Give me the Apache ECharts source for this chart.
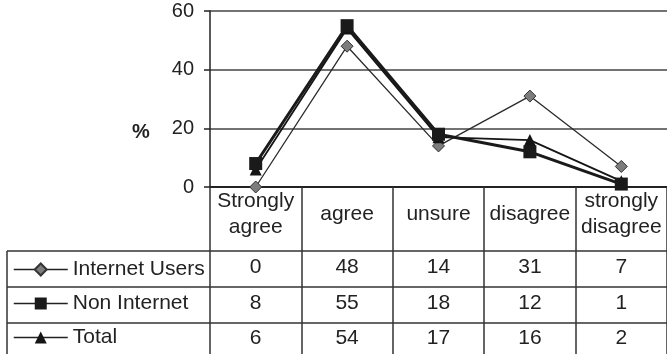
<!DOCTYPE html>
<html>
<head>
<meta charset="utf-8">
<script src="https://cdn.jsdelivr.net/npm/echarts@6/dist/echarts.min.js"></script>
<style>
html,body{margin:0;padding:0;background:#fff;}
#c{width:667px;height:354px;}
</style>
</head>
<body>
<div id="c"></div>
<script>
const categories = ['Strongly\nagree', 'agree', 'unsure', 'disagree', 'strongly\ndisagree'];
const seriesNames = ['Internet Users', 'Non Internet', 'Total'];
const internetUsers = [0, 48, 14, 31, 7];
const nonInternet = [8, 55, 18, 12, 1];
const total = [6, 54, 17, 16, 2];
const yTickValues = [0, 20, 40, 60];

const FONT = '"Liberation Sans", Arial, sans-serif';
const INK = '#222';
const FS = 21;

const chart = echarts.init(document.getElementById('c'), null, {renderer: 'canvas'});

const option = {
  backgroundColor: '#fff',
  animation: false,
  textStyle: {fontFamily: FONT},
  grid: {left: 210, top: 11, width: 466, height: 176},
  legend: {
    orient: 'vertical',
    left: 13,
    top: 259,
    height: 150,
    padding: 0,
    itemWidth: 54,
    itemHeight: 15,
    itemGap: 13,
    data: seriesNames,
    lineStyle: {width: 1.5, color: INK},
    textStyle: {fontSize: FS, color: INK, fontFamily: FONT},
    selectedMode: false
  },
  xAxis: {
    type: 'category',
    data: categories,
    boundaryGap: true,
    axisLine: {show: true, lineStyle: {color: INK, width: 2}},
    axisTick: {show: true, length: 170, interval: 0, lineStyle: {color: '#333', width: 1.5}},
    axisLabel: {
      interval: 0, fontSize: FS, lineHeight: 26, color: INK,
      verticalAlign: 'middle', margin: 27, fontFamily: FONT
    },
    splitLine: {show: false}
  },
  yAxis: {
    type: 'value',
    min: yTickValues[0],
    max: yTickValues[yTickValues.length - 1],
    interval: yTickValues[1] - yTickValues[0],
    axisLine: {show: true, lineStyle: {color: INK, width: 1.5}},
    axisTick: {show: true, length: 6, lineStyle: {color: INK, width: 1.5}},
    axisLabel: {fontSize: 20, color: INK, margin: 16, fontFamily: FONT},
    splitLine: {show: true, lineStyle: {color: '#444', width: 1.5}}
  },
  series: [
    {
      name: seriesNames[0], type: 'line', data: internetUsers, z: 3,
      symbol: 'diamond', symbolSize: 12, showAllSymbol: true, clip: false,
      itemStyle: {color: '#7d7d7d', borderColor: '#333', borderWidth: 1},
      lineStyle: {color: '#2a2a2a', width: 1.3}
    },
    {
      name: seriesNames[2], type: 'line', data: total, z: 4,
      symbol: 'triangle', symbolSize: 12, showAllSymbol: true, clip: false,
      itemStyle: {color: '#151515'},
      lineStyle: {color: '#151515', width: 1.8}
    },
    {
      name: seriesNames[1], type: 'line', data: nonInternet, z: 5,
      symbol: 'rect', symbolSize: 13, showAllSymbol: true, clip: false,
      itemStyle: {color: '#1a1a1a'},
      lineStyle: {color: '#1a1a1a', width: 3}
    }
  ]
};
chart.setOption(option);

// Data table drawn below the axis, columns follow the category axis.
const tableRows = [internetUsers, nonInternet, total];
const rowLines = [251, 287, 323];
const rowTextY = [267, 303, 338];
const tableLeft = 7;
const els = [];
rowLines.forEach(function (y) {
  els.push({type: 'line', shape: {x1: tableLeft, y1: y, x2: 667, y2: y},
    style: {stroke: '#333', lineWidth: 1.5}, silent: true});
});
els.push({type: 'line', shape: {x1: tableLeft, y1: rowLines[0], x2: tableLeft, y2: 354},
  style: {stroke: '#333', lineWidth: 1.5}, silent: true});
tableRows.forEach(function (vals, r) {
  vals.forEach(function (v, i) {
    const x = chart.convertToPixel({xAxisIndex: 0}, i);
    els.push({type: 'text', x: x, y: rowTextY[r], silent: true,
      style: {text: String(v), fontSize: FS, fontFamily: FONT, fill: INK,
        align: 'center', verticalAlign: 'middle'}});
  });
});
els.push({type: 'text', x: 141, y: 132, silent: true,
  style: {text: '%', fontSize: 20, fontWeight: 'bold', fontFamily: FONT, fill: INK,
    align: 'center', verticalAlign: 'middle'}});
chart.setOption({graphic: els});
</script>
</body>
</html>
